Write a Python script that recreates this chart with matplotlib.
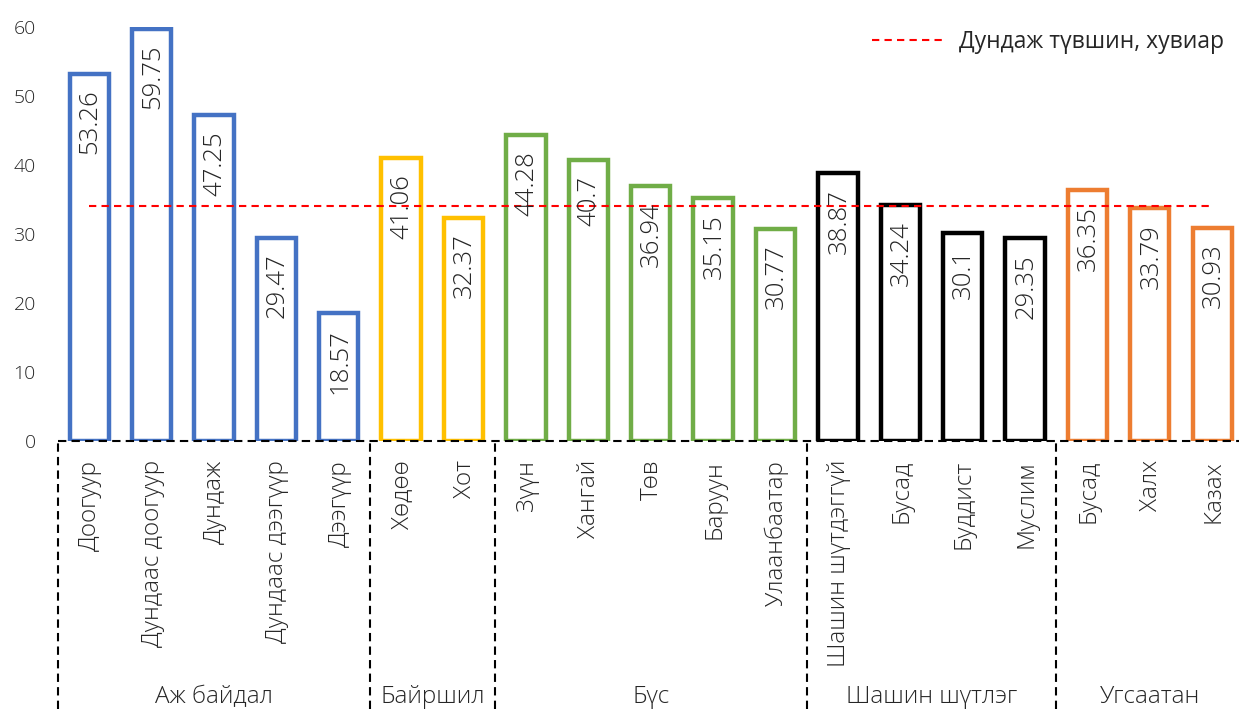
import matplotlib
matplotlib.use("Agg")
import matplotlib.pyplot as plt
from matplotlib.lines import Line2D

plt.rcParams['font.family'] = ['Open Sans', 'DejaVu Sans']

categories = ["Доогуур", "Дундаас доогуур", "Дундаж", "Дундаас дээгүүр", "Дээгүүр",
              "Хөдөө", "Хот",
              "Зүүн", "Хангай", "Төв", "Баруун", "Улаанбаатар",
              "Шашин шүтдэггүй", "Бусад", "Буддист", "Муслим",
              "Бусад", "Халх", "Казах"]
values = [53.26, 59.75, 47.25, 29.47, 18.57,
          41.06, 32.37,
          44.28, 40.7, 36.94, 35.15, 30.77,
          38.87, 34.24, 30.1, 29.35,
          36.35, 33.79, 30.93]
value_labels = ["53.26", "59.75", "47.25", "29.47", "18.57",
                "41.06", "32.37",
                "44.28", "40.7", "36.94", "35.15", "30.77",
                "38.87", "34.24", "30.1", "29.35",
                "36.35", "33.79", "30.93"]
groups = ["Аж байдал", "Байршил", "Бүс", "Шашин шүтлэг", "Угсаатан"]
group_sizes = [5, 2, 5, 4, 3]
group_colors = ["#4472C4", "#FFC000", "#70AD47", "#000000", "#ED7D31"]
average = 34.06
legend_label = "Дундаж түвшин, хувиар"
yticks = [0, 10, 20, 30, 40, 50, 60]

text_color = "#262626"

W, H = 1239, 709
fig = plt.figure(figsize=(W / 100, H / 100), dpi=100)
slot = 62.39
ax_left = 58 / W
ax_width = 19 * slot / W
ax_bottom = (H - 441) / H
ax_height = 414 / H
ax = fig.add_axes([ax_left, ax_bottom, ax_width, ax_height])

colors = []
for g, n in enumerate(group_sizes):
    colors += [group_colors[g]] * n

xs = list(range(len(categories)))
ax.bar(xs, values, width=0.63, facecolor="white", edgecolor=colors,
       linewidth=3.2, zorder=2)

# average line
ax.plot(xs, [average] * len(xs), color="#FF0000", linestyle=(0, (3.5, 2.5)),
        linewidth=1.5, zorder=4)

# value labels
for x, v, lab in zip(xs, values, value_labels):
    ax.annotate(lab, xy=(x, v), xytext=(1, -16), textcoords="offset pixels",
                rotation=90, ha="center", va="top", fontsize=18.5,
                color=text_color, fontweight="light", zorder=5)

ax.set_xlim(-0.5, len(xs) - 0.5)
ax.set_ylim(0, 60)
ax.set_yticks(yticks)
ax.set_yticklabels([str(t) for t in yticks], fontsize=14, color=text_color,
                   fontweight="light")
ax.tick_params(axis="y", length=0, pad=16)
ax.set_xticks([])
for s in ["top", "right", "left", "bottom"]:
    ax.spines[s].set_visible(False)

# dashed x axis line
ax.axhline(0, color="black", linestyle=(0, (4, 2.5)), linewidth=1.5,
           zorder=6, clip_on=False)

# category labels
for x, c in zip(xs, categories):
    ax.annotate(c, xy=(x, 0), xytext=(1, -19), textcoords="offset pixels",
                rotation=90, ha="center", va="top", fontsize=17.5,
                color=text_color, fontweight="light", annotation_clip=False)

# group separators and labels
start = 0
bounds = [-0.5]
for n in group_sizes:
    start += n
    bounds.append(start - 0.5)
ytop_fig = ax_bottom
for b in bounds:
    xf = ax_left + (b + 0.5) * slot / W
    fig.add_artist(Line2D([xf, xf], [0, ytop_fig], color="black",
                          linestyle=(0, (4, 2.5)), linewidth=1.5))
for g, name in enumerate(groups):
    cx = (bounds[g] + bounds[g + 1]) / 2
    xf = ax_left + (cx + 0.5) * slot / W
    fig.text(xf, 12 / H, name, ha="center", va="center", fontsize=17.5,
             color=text_color, fontweight="light")

# legend
handle = Line2D([0], [0], color="#FF0000", linestyle=(0, (3.5, 2.5)), linewidth=1.5)
fig.legend([handle], [legend_label], loc="upper right",
           bbox_to_anchor=(1224 / W, 1 - 30 / H), frameon=False,
           fontsize=16.5, handlelength=3.2, handletextpad=0.6,
           labelcolor=text_color, borderaxespad=0, borderpad=0)

fig.savefig("out.png", dpi=100)
